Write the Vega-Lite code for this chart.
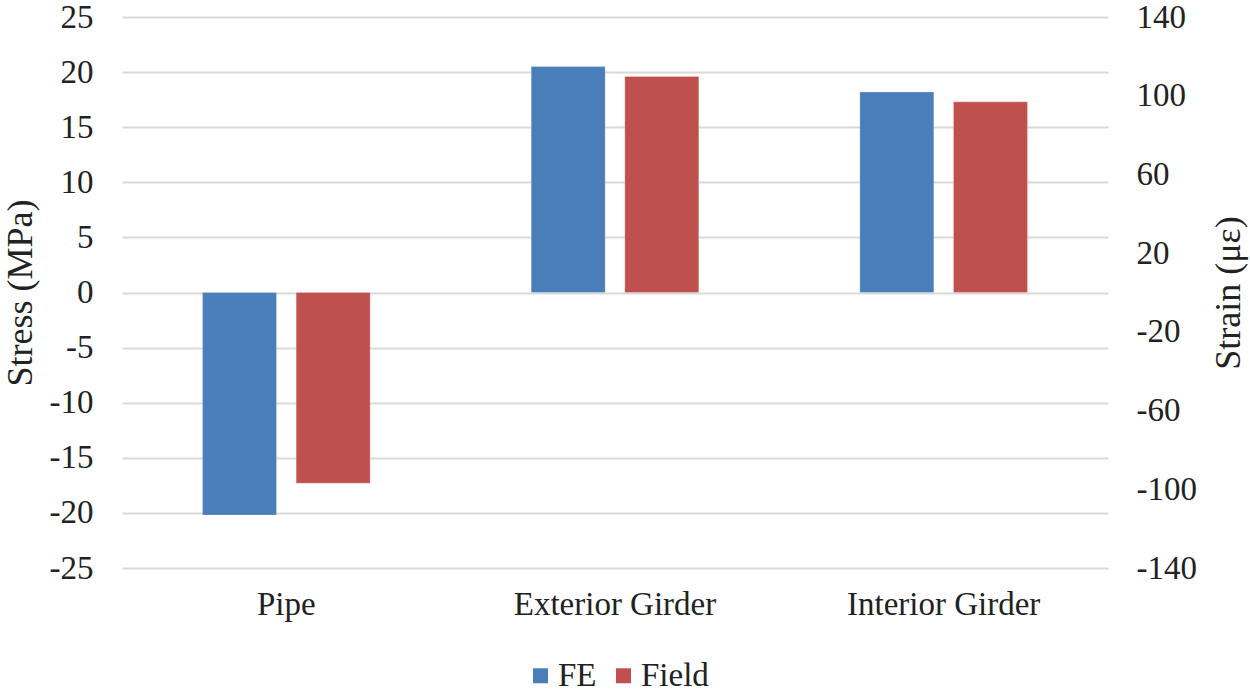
{
  "$schema": "https://vega.github.io/schema/vega-lite/v6.json",
  "autosize": {"type": "none"},
  "padding": {"left": 122, "top": 17, "right": 142, "bottom": 125},
  "width": 986,
  "height": 551,
  "background": "white",
  "config": {
    "font": "Liberation Serif",
    "view": {"stroke": null},
    "axis": {"labelFont": "Liberation Serif", "titleFont": "Liberation Serif", "labelFontSize": 33, "titleFontSize": 36, "labelColor": "#222", "titleColor": "#222", "titleFontWeight": "normal", "labelLimit": 0},
    "legend": {"labelFont": "Liberation Serif", "labelFontSize": 33, "labelColor": "#222"}
  },
  "data": {"values": [
    {"Location": "Pipe", "Series": "FE", "Stress": -20.2},
    {"Location": "Pipe", "Series": "Field", "Stress": -17.3},
    {"Location": "Exterior Girder", "Series": "FE", "Stress": 20.5},
    {"Location": "Exterior Girder", "Series": "Field", "Stress": 19.6},
    {"Location": "Interior Girder", "Series": "FE", "Stress": 18.2},
    {"Location": "Interior Girder", "Series": "Field", "Stress": 17.3}
  ]},
  "encoding": {
    "x": {"field": "Location", "type": "nominal", "sort": ["Pipe", "Exterior Girder", "Interior Girder"],
      "scale": {"paddingInner": 0.49, "paddingOuter": 0.245},
      "axis": {"title": null, "labelAngle": 0, "domain": false, "ticks": false, "labelPadding": 20, "labelLimit": 0}}
  },
  "layer": [
    {
      "mark": {"type": "bar", "stroke": "white", "strokeOpacity": 0.25, "strokeWidth": 1},
      "encoding": {
        "xOffset": {"field": "Series", "type": "nominal", "sort": ["FE", "Field"], "scale": {"paddingInner": 0.21}},
        "y": {"field": "Stress", "type": "quantitative",
          "scale": {"domain": [-25, 25], "nice": false, "zero": true},
          "axis": {"title": "Stress (MPa)", "values": [-25, -20, -15, -10, -5, 0, 5, 10, 15, 20, 25],
            "labelExpr": "datum.value < 0 ? '-' + abs(datum.value) : '' + datum.value",
            "grid": true, "gridColor": "#d9d9d9", "gridWidth": 2, "domain": false, "ticks": false, "labelPadding": 29, "titlePadding": 10}},
        "color": {"field": "Series", "type": "nominal", "sort": ["FE", "Field"],
          "scale": {"domain": ["FE", "Field"], "range": ["#4a7ebb", "#c0504d"]},
          "legend": {"title": null, "orient": "none", "legendX": 402, "legendY": 642, "direction": "horizontal", "symbolType": "square", "symbolSize": 225, "symbolStrokeWidth": 0, "symbolOpacity": 1, "columnPadding": 10, "labelOffset": 1}}
      }
    },
    {
      "mark": {"type": "rule", "opacity": 0},
      "encoding": {
        "y": {"datum": 0, "type": "quantitative",
          "scale": {"domain": [-140, 140], "nice": false},
          "axis": {"orient": "right", "title": "Strain (με)", "titleAngle": 270, "values": [-140, -100, -60, -20, 20, 60, 100, 140],
            "labelExpr": "datum.value < 0 ? '-' + abs(datum.value) : '' + datum.value",
            "grid": false, "domain": false, "ticks": false, "labelPadding": 28, "titlePadding": 51}}
      }
    }
  ],
  "resolve": {"scale": {"y": "independent"}}
}
